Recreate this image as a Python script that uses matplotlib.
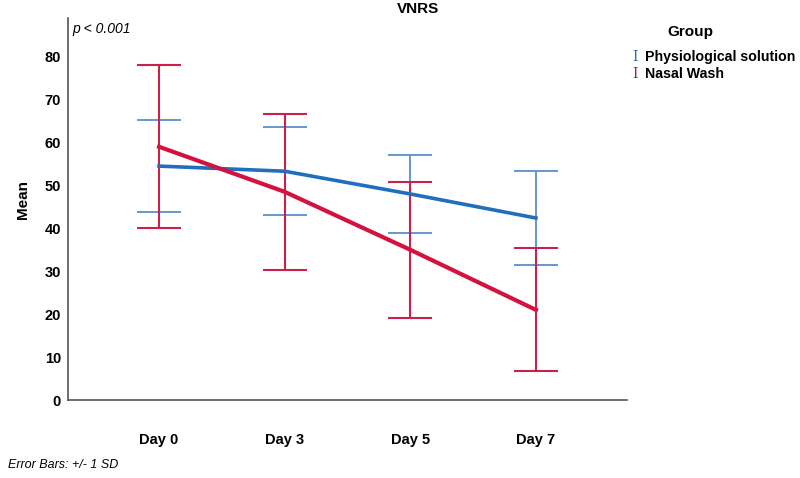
import matplotlib
matplotlib.use("Agg")
import matplotlib.pyplot as plt
import numpy as np

plt.rcParams['font.family'] = ['Liberation Sans', 'DejaVu Sans']

days = ["Day 0", "Day 3", "Day 5", "Day 7"]
phys_mean = [54.5, 53.3, 48.0, 42.4]
phys_sd = [10.7, 10.3, 9.1, 11.0]
nasal_mean = [59.0, 48.5, 35.0, 21.0]
nasal_sd = [19.0, 18.2, 15.8, 14.3]

blue = '#1f6fbd'
blue_err = '#5a8fcc'
red = '#d4123f'
red_err = '#cc1f4c'

fig = plt.figure(figsize=(8, 4.78), dpi=100)
ax = fig.add_axes([68/800, 1-400/478, (627-68)/800, (400-18)/478])

x = np.arange(len(days))
ax.errorbar(x, phys_mean, yerr=phys_sd, fmt='none', ecolor=blue_err,
            elinewidth=1.3, capsize=16, capthick=1.3, zorder=2)
ax.errorbar(x, nasal_mean, yerr=nasal_sd, fmt='none', ecolor=red_err,
            elinewidth=1.5, capsize=16, capthick=1.5, zorder=3)
ax.plot(x, phys_mean, color=blue, lw=2.6, zorder=4)
ax.plot(x, nasal_mean, color=red, lw=3.0, zorder=5)

ax.set_xlim(-0.725, 3.725)
ax.set_ylim(0, 89)
ax.set_yticks([0, 10, 20, 30, 40, 50, 60, 70, 80])
ax.set_xticks(x)
ax.set_xticklabels(days)
for lab in ax.get_xticklabels() + ax.get_yticklabels():
    lab.set_fontweight('bold')
    lab.set_fontsize(10.5)
ax.tick_params(axis='x', length=0, pad=24)
ax.tick_params(axis='y', length=0, pad=5)
for s in ['top', 'right']:
    ax.spines[s].set_visible(False)
for s in ['left', 'bottom']:
    ax.spines[s].set_color('#555555')
    ax.spines[s].set_linewidth(1.2)
ax.set_ylabel('Mean', fontweight='bold', fontsize=11)
ax.yaxis.set_label_coords(-38/559, 0.525)

ax.text(0.008, 0.99, 'p < 0.001', transform=ax.transAxes, style='italic',
        fontsize=10, ha='left', va='top')

fig.text(418/800, 1-9/478, 'VNRS', ha='center', va='center',
         fontweight='bold', fontsize=11)

fig.text(690/800, 1-32/478, 'Group', ha='center', va='center',
         fontweight='bold', fontsize=11)
fig.text(635/800, 1-57/478, 'I', color=blue, ha='center', va='center',
         family='DejaVu Serif', fontsize=10)
fig.text(635/800, 1-74/478, 'I', color='#a8173f', ha='center', va='center',
         family='DejaVu Serif', fontsize=10)
fig.text(645/800, 1-57/478, 'Physiological solution', ha='left',
         va='center', fontweight='bold', fontsize=10.2)
fig.text(645/800, 1-74/478, 'Nasal Wash', ha='left', va='center',
         fontweight='bold', fontsize=10.2)

fig.text(8/800, 1-465/478, 'Error Bars: +/- 1 SD', ha='left', va='center',
         style='italic', fontsize=9)

fig.savefig('out.png', dpi=100)
